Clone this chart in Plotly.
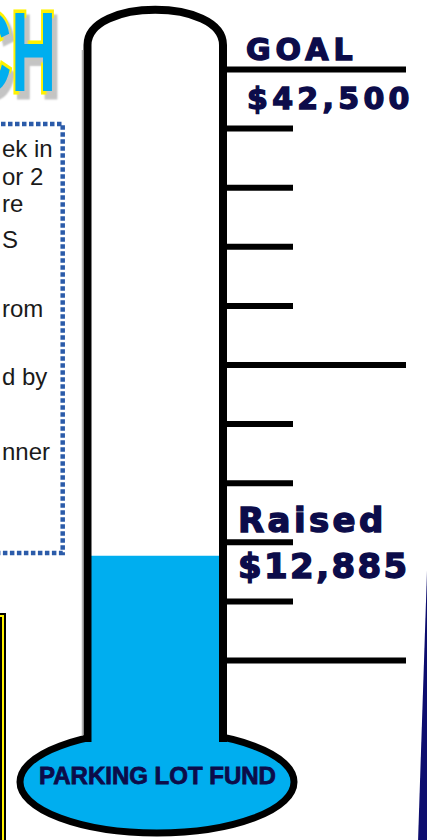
import plotly.graph_objects as go

# ---------------- data ----------------
GOAL = 42500
RAISED = 12885
TICK_VALUES = [42500, 38900, 35300, 31700, 28100, 24500, 20900, 17300, 13700, 10100, 6500]
MAJOR_TICKS = [42500, 24500, 6500]
FUND_NAME = "PARKING LOT FUND"
GOAL_LABEL = "GOAL"
RAISED_LABEL = "Raised"
HEADLINE = "CH"
NOTE_FRAGMENTS = ["ek in", "or 2", "re", "S", "rom", "d by", "nner"]

# ---------------- layout helpers ----------------
W, H = 427, 840
DOLLARS_PER_PX = 3600 / 59.1
GOAL_PX = 69.5
Y_TOP = GOAL + GOAL_PX * DOLLARS_PER_PX
Y_BOTTOM = GOAL - (H - GOAL_PX) * DOLLARS_PER_PX


def py(p):
    """pixel row -> paper y"""
    return 1 - p / H


CYAN = "#00AEEF"
NAVY = "#0C0C4A"

fig = go.Figure()

# mercury column (bar on the dollar axis)
fig.add_trace(go.Bar(x=[155.5], y=[RAISED], base=0, width=132,
                     marker=dict(color=CYAN, line=dict(width=0)),
                     hoverinfo="skip"))

# scale ticks
minor = [v for v in TICK_VALUES if v not in MAJOR_TICKS]
for vals, x_end in ((MAJOR_TICKS, 406), (minor, 293)):
    xs, ys = [], []
    for v in vals:
        xs += [223, x_end, None]
        ys += [v, v, None]
    fig.add_trace(go.Scatter(x=xs, y=ys, mode="lines",
                             line=dict(color="black", width=6),
                             hoverinfo="skip"))

shapes = []
# bulb
shapes.append(dict(type="circle", xref="x", yref="paper", layer="below",
                   x0=20, x1=294, y0=py(731), y1=py(833),
                   line=dict(color="black", width=7), fillcolor=CYAN))
# tube outline
x_l, x_r = 87.5, 223
path = (f"M {x_l},{py(742)} L {x_l},{py(45)} "
        f"C {x_l},{py(-2)} {x_r},{py(-2)} {x_r},{py(45)} L {x_r},{py(742)}")
shapes.append(dict(type="path", xref="x", yref="paper", layer="above", path=path,
                   line=dict(color="black", width=8), fillcolor="rgba(0,0,0,0)"))
shapes.append(dict(type="line", xref="x", yref="paper", layer="above",
                   x0=82.5, x1=82.5, y0=py(50), y1=py(735),
                   line=dict(color="#b5b5b5", width=1.5)))
# dotted note box
box = f"M -20,{py(124)} L 62.7,{py(124)} L 62.7,{py(553)} L -20,{py(553)}"
shapes.append(dict(type="path", xref="x", yref="paper", layer="below", path=box,
                   line=dict(color="#2B5BA9", width=4.5, dash="4.5px,2.5px"),
                   fillcolor="rgba(0,0,0,0)"))
# bottom-left framed box
for col, wd in (("black", 6), ("#FFF200", 2)):
    shapes.append(dict(type="rect", xref="x", yref="paper", layer="below",
                       x0=-30, x1=3, y0=py(616), y1=py(900),
                       line=dict(color=col, width=wd), fillcolor="rgba(0,0,0,0)"))
# navy background band on the right
band = f"M 427.6,{py(553)} L 418,{py(842)} L 430,{py(842)} L 430,{py(553)} Z"
shapes.append(dict(type="path", xref="x", yref="paper", layer="below", path=band,
                   line=dict(width=0), fillcolor="#0D0D6E"))

ann = []
# headline fragment
ann.append(dict(text=HEADLINE, xref="x", yref="paper", x=58, y=py(52),
                xanchor="right", yanchor="middle", align="right", showarrow=False,
                font=dict(family="Liberation Sans", size=113, color=CYAN, weight="bold",
                          shadow="5px 4px 2px #c4c4c4")))
# note fragments
note_y = [148, 176, 203, 239, 308, 377, 451]
for txt, yy in zip(NOTE_FRAGMENTS, note_y):
    ann.append(dict(text=txt, xref="x", yref="paper", x=0.3, y=py(yy),
                    xanchor="left", yanchor="middle", align="left", showarrow=False,
                    font=dict(family="Liberation Sans", size=24, color="#1a1a1a")))
# goal / raised labels
labels = [
    (GOAL_LABEL, 244, 49, 30),
    (f"${GOAL:,}", 245, 98, 30),
    (RAISED_LABEL, 236, 520, 34),
    (f"${RAISED:,}", 236, 566, 34),
]
for txt, xx, yy, sz in labels:
    ann.append(dict(text=txt, xref="x", yref="paper", x=xx, y=py(yy),
                    xanchor="left", yanchor="middle", align="left", showarrow=False,
                    font=dict(family="DejaVu Sans", size=sz, color=NAVY, weight="bold")))
# fund name in the bulb
ann.append(dict(text=FUND_NAME, xref="x", yref="paper", x=157, y=py(775),
                xanchor="center", yanchor="middle", showarrow=False,
                font=dict(family="Liberation Sans", size=24, color=NAVY, weight="bold")))

fig.update_layout(
    width=W, height=H, margin=dict(l=0, r=0, t=0, b=0),
    paper_bgcolor="white", plot_bgcolor="white", showlegend=False,
    xaxis=dict(range=[0, W], visible=False, fixedrange=True),
    yaxis=dict(range=[Y_BOTTOM, Y_TOP], visible=False, fixedrange=True),
    shapes=shapes, annotations=ann,
)

post = """
document.body.style.margin = '0';
document.body.style.padding = '0';
document.body.style.overflow = 'hidden';
document.querySelectorAll('text.annotation-text').forEach(function(t){
  var s = t.textContent;
  if (s === 'CH') {
    t.style.stroke = '#FFF200';
    t.style.strokeWidth = '7px';
    t.style.paintOrder = 'stroke';
    t.style.strokeLinejoin = 'miter';
    t.style.transformBox = 'fill-box';
    t.style.transformOrigin = '100% 50%';
    t.style.transform = 'scaleX(0.55)';
    return;
  }
  var ls = null;
  if (s === 'GOAL') ls = '5px';
  else if (s.indexOf('$42') === 0) ls = '4.3px';
  else if (s === 'Raised') ls = '3.4px';
  else if (s.indexOf('$12') === 0) ls = '2.4px';
  if (ls) {
    t.style.letterSpacing = ls;
    t.style.stroke = '#0C0C4A';
    t.style.strokeWidth = '1.4px';
  } else if (s === 'PARKING LOT FUND') {
    t.style.stroke = '#0C0C4A';
    t.style.strokeWidth = '0.8px';
  }
});
"""
fig.write_html("out.html", post_script=post, config={"displayModeBar": False, "responsive": False})
